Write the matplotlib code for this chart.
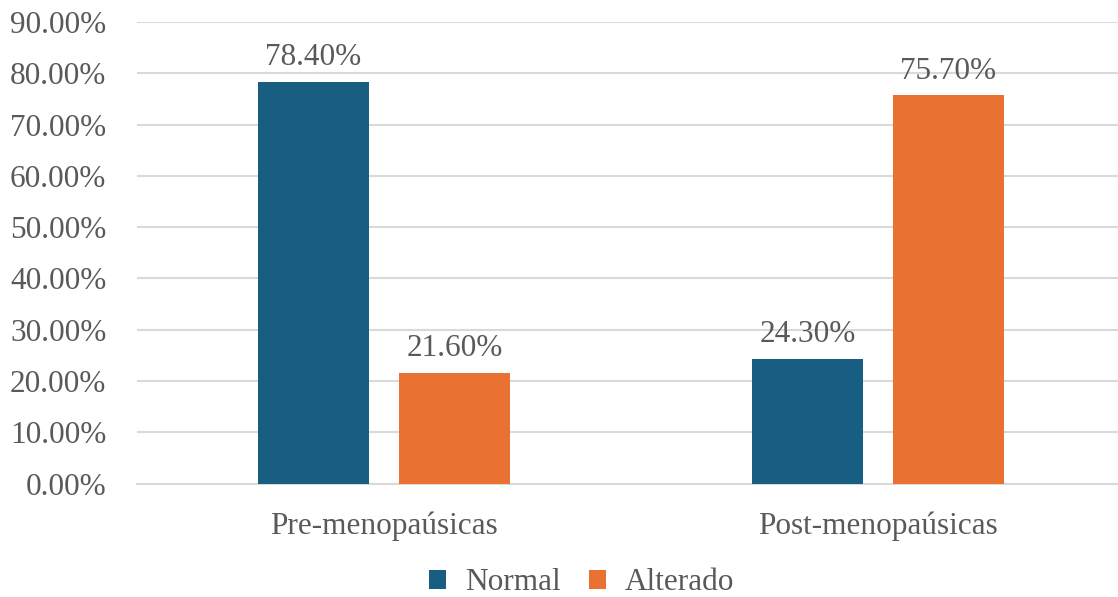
import matplotlib
matplotlib.use("Agg")
import matplotlib.pyplot as plt
from matplotlib.patches import Patch
import numpy as np

categories = ["Pre-menopaúsicas", "Post-menopaúsicas"]
series_names = ["Normal", "Alterado"]
normal = [78.40, 24.30]
alterado = [21.60, 75.70]
yticks = [0, 10, 20, 30, 40, 50, 60, 70, 80, 90]

colors = ["#175E82", "#E97132"]
text_color = "#595959"
grid_color = "#D9D9D9"

plt.rcParams["font.family"] = ["Liberation Serif", "DejaVu Serif"]

fig = plt.figure(figsize=(11.18, 5.97), dpi=100)
ax = fig.add_axes([0.1225, 0.190, 0.8837, 0.773])

x = np.arange(len(categories))
width = 0.2247
offset = 0.1427
for vals, name, c, dx in [(normal, series_names[0], colors[0], -offset),
                          (alterado, series_names[1], colors[1], offset)]:
    bars = ax.bar(x + dx, vals, width=width, color=c, zorder=3, label=name)
    for b, v in zip(bars, vals):
        ax.annotate(f"{v:.2f}%", (b.get_x() + b.get_width() / 2, v),
                    xytext=(0, 7), textcoords="offset points",
                    ha="center", va="bottom", fontsize=22.5, color=text_color)

ax.set_xlim(-0.5, 1.5)
ax.set_ylim(0, 90)
ax.set_yticks(yticks)
ax.set_yticklabels([f"{t:.2f}%" for t in yticks])
ax.set_xticks(x)
ax.set_xticklabels(categories)
ax.tick_params(axis="both", length=0, labelsize=22.5, colors=text_color)
ax.tick_params(axis="y", pad=22)
ax.tick_params(axis="x", pad=20)
ax.grid(axis="y", color=grid_color, linewidth=1.5, zorder=0)
for s in ["top", "right", "left"]:
    ax.spines[s].set_visible(False)
ax.spines["bottom"].set_color(grid_color)
ax.spines["bottom"].set_linewidth(1.5)

handles = [Patch(facecolor=c, label=n) for c, n in zip(colors, series_names)]
fig.legend(handles=handles, loc="center", bbox_to_anchor=(0.52, 0.024),
           ncol=2, frameon=False, fontsize=22.5, labelcolor=text_color,
           handlelength=0.55, handleheight=0.55, handletextpad=0.6,
           columnspacing=0.9)

fig.savefig("out.png", dpi=100)
